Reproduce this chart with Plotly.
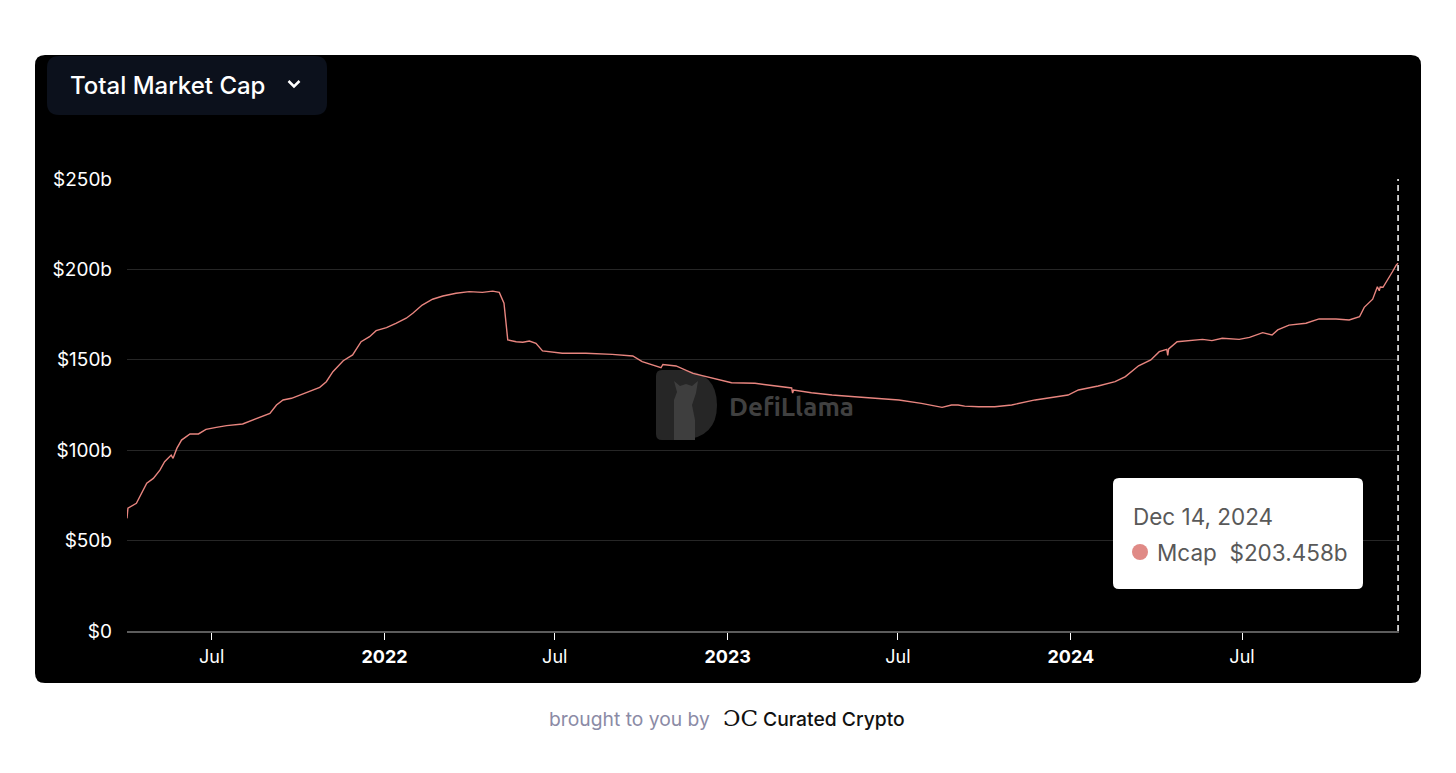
import plotly.graph_objects as go

# ---------------- data ----------------
dates = [
    "2021-04-02", "2021-04-03", "2021-04-12", "2021-04-19", "2021-04-23", "2021-04-30",
    "2021-05-07", "2021-05-12", "2021-05-19", "2021-05-21", "2021-05-25", "2021-05-30",
    "2021-06-08", "2021-06-17", "2021-06-25", "2021-07-06", "2021-07-17", "2021-08-03",
    "2021-08-18", "2021-09-01", "2021-09-08", "2021-09-15", "2021-09-24", "2021-10-06",
    "2021-10-24", "2021-10-31", "2021-11-07", "2021-11-18", "2021-11-28", "2021-12-07",
    "2021-12-16", "2021-12-23", "2022-01-03", "2022-01-13", "2022-01-24", "2022-01-31",
    "2022-02-10", "2022-02-21", "2022-03-04", "2022-03-18", "2022-04-01", "2022-04-15",
    "2022-04-26", "2022-05-03", "2022-05-05", "2022-05-08", "2022-05-12", "2022-05-21",
    "2022-05-28", "2022-06-04", "2022-06-11", "2022-06-18", "2022-07-09", "2022-08-03",
    "2022-08-31", "2022-09-22", "2022-10-02", "2022-10-20", "2022-10-22", "2022-10-24",
    "2022-11-07", "2022-11-25",
    "2022-12-16", "2023-01-05", "2023-01-30", "2023-02-24", "2023-03-10", "2023-03-11",
    "2023-03-12", "2023-03-31",
    "2023-04-22", "2023-05-16", "2023-06-10", "2023-07-02", "2023-07-26", "2023-08-17",
    "2023-08-27", "2023-09-03", "2023-09-10", "2023-09-25", "2023-10-12", "2023-10-30",
    "2023-11-24", "2023-12-12", "2023-12-29", "2024-01-09", "2024-01-30", "2024-02-17",
    "2024-02-28", "2024-03-13", "2024-03-26", "2024-04-04", "2024-04-12", "2024-04-13",
    "2024-04-14", "2024-04-23",
    "2024-05-09", "2024-05-20", "2024-05-30", "2024-06-10", "2024-06-28", "2024-07-09",
    "2024-07-23", "2024-08-02", "2024-08-08", "2024-08-20", "2024-09-07", "2024-09-21",
    "2024-10-09", "2024-10-23", "2024-11-03", "2024-11-08", "2024-11-17", "2024-11-22",
    "2024-11-24", "2024-11-25", "2024-11-28", "2024-12-03", "2024-12-08", "2024-12-12",
    "2024-12-14",
]
mcap = [
    62.3, 67.9, 70.6, 78.0, 81.7, 84.4,
    89.0, 93.6, 97.3, 95.5, 101.0, 105.6,
    109.0, 109.0, 111.5, 112.6, 113.6, 114.5,
    117.6, 120.4, 125.0, 127.8, 128.7, 131.0,
    134.8, 137.9, 143.4, 149.5, 152.7, 160.0,
    162.8, 166.1, 167.8, 170.2, 173.0, 175.7,
    180.3, 183.5, 185.3, 186.8, 187.7, 187.3,
    188.0, 187.3, 184.9, 181.3, 161.0, 160.0,
    159.7, 160.4, 159.1, 154.9, 153.6, 153.6,
    153.0, 152.1, 149.0, 146.2, 145.6, 147.4,
    146.6, 142.5,
    139.8, 137.3, 137.0, 135.1, 134.4, 131.6,
    133.3, 131.8,
    130.5, 129.6, 128.7, 127.8, 125.9, 123.7,
    125.0, 125.0, 124.4, 124.0, 124.0, 125.0,
    127.8, 129.0, 130.5, 133.3, 135.5, 137.9,
    140.7, 146.7, 149.9, 154.5, 155.8, 152.4,
    156.0, 160.0,
    160.6, 161.3, 160.6, 161.9, 161.3, 162.4,
    165.0, 163.7, 166.5, 169.2, 170.2, 172.6,
    172.6, 172.0, 173.8, 179.0, 183.5, 190.4,
    188.2, 190.3, 190.1, 194.1, 198.7, 202.4,
    203.458,
]

tick_dates = ["2021-07-01", "2022-01-01", "2022-07-01", "2023-01-01",
              "2023-07-01", "2024-01-01", "2024-07-01"]
tick_text = ["Jul", "<b>2022</b>", "Jul", "<b>2023</b>", "Jul", "<b>2024</b>", "Jul"]
y_ticks = [0, 50, 100, 150, 200, 250]
y_text = ["$0", "$50b", "$100b", "$150b", "$200b", "$250b"]

x_start, x_end = "2021-04-02", "2024-12-15"
hover_date = "2024-12-14"
tooltip_date = "Dec 14, 2024"
tooltip_label = "Mcap"
tooltip_value = "$203.458b"

# ---------------- layout helpers ----------------
W, H = 1456, 773
LINE = "#e8857f"


def X(px):
    return px / W


def Y(py):
    return 1 - py / H


def rrect(x0, y0, x1, y1, r):
    rx, ry = r, r
    return (
        f"M {X(x0+rx)},{Y(y0)} L {X(x1-rx)},{Y(y0)} Q {X(x1)},{Y(y0)} {X(x1)},{Y(y0+ry)} "
        f"L {X(x1)},{Y(y1-ry)} Q {X(x1)},{Y(y1)} {X(x1-rx)},{Y(y1)} "
        f"L {X(x0+rx)},{Y(y1)} Q {X(x0)},{Y(y1)} {X(x0)},{Y(y1-ry)} "
        f"L {X(x0)},{Y(y0+ry)} Q {X(x0)},{Y(y0)} {X(x0+rx)},{Y(y0)} Z"
    )


fig = go.Figure()
fig.add_trace(go.Scatter(
    x=dates, y=mcap, mode="lines",
    line=dict(color=LINE, width=1.4),
    hoverinfo="skip", showlegend=False,
))

shapes = []
shapes.append(dict(type="path", xref="paper", yref="paper", path=rrect(35, 55, 1421, 683, 10),
                   fillcolor="#000000", line=dict(width=0), layer="below"))
shapes.append(dict(type="path", xref="paper", yref="paper", path=rrect(47, 56, 327, 115, 12),
                   fillcolor="#0c111c", line=dict(width=0), layer="below"))
shapes.append(dict(type="path", xref="paper", yref="paper",
                   path=f"M {X(288.5)},{Y(81)} L {X(294)},{Y(86.5)} L {X(299.5)},{Y(81)}",
                   line=dict(color="white", width=2.5), layer="above"))
# watermark logo
shapes.append(dict(type="path", xref="paper", yref="paper",
                   path=(f"M {X(662)},{Y(370)} L {X(682)},{Y(370)} "
                         f"Q {X(717)},{Y(372)} {X(717)},{Y(405)} "
                         f"Q {X(717)},{Y(438)} {X(682)},{Y(440)} "
                         f"L {X(662)},{Y(440)} Q {X(656)},{Y(440)} {X(656)},{Y(434)} "
                         f"L {X(656)},{Y(376)} Q {X(656)},{Y(370)} {X(662)},{Y(370)} Z"),
                   fillcolor="#262626", line=dict(width=0), layer="below"))
shapes.append(dict(type="path", xref="paper", yref="paper",
                   path=(f"M {X(674)},{Y(440)} L {X(674)},{Y(400)} L {X(677)},{Y(392)} "
                         f"L {X(674)},{Y(381)} L {X(680)},{Y(386)} L {X(686)},{Y(384)} "
                         f"L {X(692)},{Y(386)} L {X(698)},{Y(381)} L {X(696)},{Y(393)} "
                         f"L {X(692)},{Y(405)} L {X(695)},{Y(420)} L {X(695)},{Y(440)} Z"),
                   fillcolor="#3e3e3e", line=dict(width=0), layer="below"))
# dashed crosshair
shapes.append(dict(type="line", xref="x", yref="y", x0=hover_date, x1=hover_date, y0=0, y1=250,
                   line=dict(color="#ffffff", width=1.5, dash="6px,4px"), layer="above"))
# tooltip box
shapes.append(dict(type="path", xref="paper", yref="paper", path=rrect(1113, 478, 1363, 589, 6),
                   fillcolor="#ffffff", line=dict(width=0), layer="above"))
shapes.append(dict(type="circle", xref="paper", yref="paper",
                   x0=X(1132), x1=X(1148), y0=Y(544), y1=Y(560),
                   fillcolor="#e08a86", line=dict(width=0), layer="above"))

FONT = "Inter, 'Liberation Sans', Arial, sans-serif"
annotations = [
    dict(text="Total Market Cap", x=X(68), y=Y(85), xref="paper", yref="paper",
         xanchor="left", yanchor="middle", showarrow=False,
         font=dict(family=FONT, size=24, color="white", weight=500)),
    dict(text="DefiLlama", x=X(727), y=Y(406), xref="paper", yref="paper",
         xanchor="left", yanchor="middle", showarrow=False,
         font=dict(family="Ubuntu, 'DejaVu Sans', sans-serif", size=26, color="#404040", weight=700)),
    dict(text=tooltip_date, x=X(1131), y=Y(516), xref="paper", yref="paper",
         xanchor="left", yanchor="middle", showarrow=False,
         font=dict(family=FONT, size=22.5, color="#595959")),
    dict(text=f"{tooltip_label}  {tooltip_value}", x=X(1155), y=Y(552), xref="paper", yref="paper",
         xanchor="left", yanchor="middle", showarrow=False,
         font=dict(family=FONT, size=22.5, color="#595959")),
    dict(text="brought to you by", x=X(712), y=Y(719), xref="paper", yref="paper",
         xanchor="right", yanchor="middle", showarrow=False,
         font=dict(family=FONT, size=19.3, color="#8b8ba6")),
    dict(text="ƆC", x=X(740), y=Y(718), xref="paper", yref="paper",
         xanchor="center", yanchor="middle", showarrow=False,
         font=dict(family="'DejaVu Serif', serif", size=23, color="#111111")),
    dict(text="Curated Crypto", x=X(761), y=Y(719), xref="paper", yref="paper",
         xanchor="left", yanchor="middle", showarrow=False,
         font=dict(family=FONT, size=19.3, color="#111111", weight=500)),
]

fig.update_layout(
    template="none",
    width=W, height=H, autosize=False,
    margin=dict(l=0, r=0, t=0, b=0, pad=0, autoexpand=False),
    paper_bgcolor="white", plot_bgcolor="rgba(0,0,0,0)",
    font=dict(family=FONT, color="white"),
    shapes=shapes, annotations=annotations, showlegend=False,
    xaxis=dict(
        domain=[X(127), X(1399)], range=[x_start, x_end], type="date",
        tickmode="array", tickvals=tick_dates, ticktext=tick_text,
        showgrid=False, zeroline=False, automargin=False,
        showline=True, linecolor="#5c5c5c", linewidth=1.5,
        ticks="outside", ticklen=7, tickwidth=1.2, tickcolor="white",
        tickfont=dict(family=FONT, size=18, color="white"),
        ticklabelstandoff=2, fixedrange=True,
    ),
    yaxis=dict(
        domain=[Y(631), Y(179)], range=[0, 250],
        tickmode="array", tickvals=y_ticks, ticktext=y_text,
        showgrid=True, gridcolor="#262626", gridwidth=1,
        zeroline=False, showline=False, ticks="", automargin=False,
        tickfont=dict(family=FONT, size=19, color="white"),
        ticklabelstandoff=14, fixedrange=True,
    ),
)

fig.write_html("out.html", config={"displayModeBar": False},
               post_script="document.body.style.margin='0';document.body.style.overflow='hidden';")
